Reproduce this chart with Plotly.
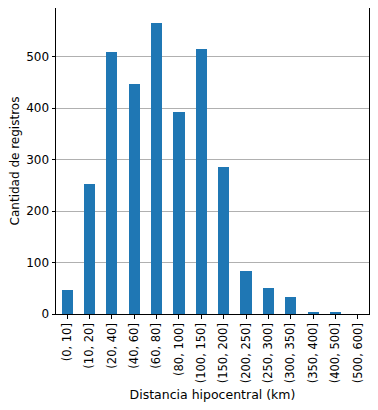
import plotly.graph_objects as go

categories = ["(0, 10]", "(10, 20]", "(20, 40]", "(40, 60]", "(60, 80]", "(80, 100]",
              "(100, 150]", "(150, 200]", "(200, 250]", "(250, 300]", "(300, 350]",
              "(350, 400]", "(400, 500]", "(500, 600]"]
counts = [47, 252, 508, 447, 566, 393, 515, 286, 84, 51, 33, 3, 3, 0]

fig = go.Figure(go.Bar(x=list(range(len(categories))), y=counts, width=0.5,
                       marker=dict(color="#1f77b4", line=dict(width=0))))

font = dict(family="DejaVu Sans", size=12, color="black")
# the page body has an 8px default margin, so the figure is sized to fit inside it
fig.update_layout(
    width=362, height=394, margin=dict(l=48, r=1, t=0, b=88),
    plot_bgcolor="white", paper_bgcolor="white", font=font, showlegend=False,
    bargap=0,
)
fig.update_xaxes(
    range=[-0.5, len(categories) - 0.5], tickmode="array",
    tickvals=list(range(len(categories))), ticktext=categories, tickangle=-90,
    showline=True, linecolor="black", linewidth=1, mirror=True,
    ticks="outside", ticklen=3.5, tickcolor="black", showgrid=False,
    automargin=False,
    title=dict(text="Distancia hipocentral (km)", font=dict(size=12.5), standoff=7),
    tickfont=dict(size=11.5),
)
fig.update_yaxes(
    range=[0, 594.3], tickvals=[0, 100, 200, 300, 400, 500],
    showline=True, linecolor="black", linewidth=1, mirror=True,
    ticks="outside", ticklen=3.5, tickcolor="black",
    showgrid=True, gridcolor="#b0b0b0", gridwidth=1, zeroline=False,
    automargin=False,
    title=dict(text="Cantidad de registros", font=dict(size=12), standoff=4),
    tickfont=dict(size=12),
)
fig.write_html("out.html")
